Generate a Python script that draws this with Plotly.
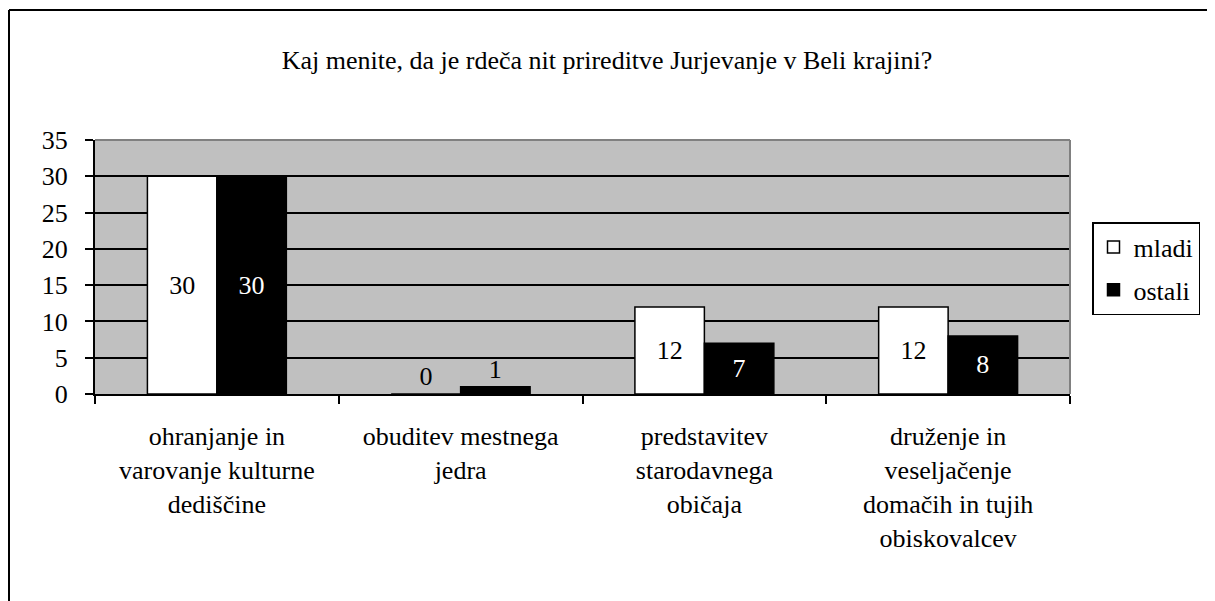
import plotly.graph_objects as go

# data
categories = [
    "ohranjanje in<br>varovanje kulturne<br>dediščine",
    "obuditev mestnega<br>jedra",
    "predstavitev<br>starodavnega<br>običaja",
    "druženje in<br>veseljačenje<br>domačih in tujih<br>obiskovalcev",
]
mladi = [30, 0, 12, 12]
ostali = [30, 1, 7, 8]
y_ticks = [0, 5, 10, 15, 20, 25, 30, 35]
title = "Kaj menite, da je rdeča nit prireditve Jurjevanje v Beli krajini?"

FONT = '"Liberation Serif", "Times New Roman", serif'
FS = 26
OFF = 8  # page body margin of the html page
W, H = 1215 - OFF, 601 - OFF
L, R, T, B = 95 - OFF, 145, 140 - OFF, 207
pw, ph = W - L - R, H - T - B


def positions(vals):
    # small bars get their label above the bar
    return ["inside" if v >= 3 else "outside" for v in vals]


fig = go.Figure()
fig.add_trace(go.Bar(
    x=categories, y=mladi, name="mladi", legendgroup="mladi",
    marker=dict(color="white", line=dict(color="black", width=1.5)),
    text=[str(v) for v in mladi], textposition=positions(mladi),
    insidetextanchor="middle",
    textfont=dict(family=FONT, size=FS, color="black"),
))
fig.add_trace(go.Bar(
    x=categories, y=ostali, name="ostali", legendgroup="ostali",
    marker=dict(color="black", line=dict(color="black", width=1.5)),
    text=[str(v) for v in ostali], textposition=positions(ostali),
    insidetextanchor="middle",
    insidetextfont=dict(family=FONT, size=FS, color="white"),
    outsidetextfont=dict(family=FONT, size=FS, color="black"),
))

# outer frame: left and top edges, kept inside the figure
fx = (1 - L) / pw
fy = (H - B - 2) / ph
fig.add_shape(type="line", xref="paper", yref="paper", x0=fx, x1=fx, y0=-B / ph, y1=fy,
              line=dict(color="black", width=2))
fig.add_shape(type="line", xref="paper", yref="paper", x0=fx, x1=(W - L) / pw, y0=fy, y1=fy,
              line=dict(color="black", width=2))
# grey top/right edge of the plot area
fig.add_shape(type="line", xref="paper", yref="paper", x0=0, x1=1, y0=1, y1=1,
              line=dict(color="#808080", width=2))
fig.add_shape(type="line", xref="paper", yref="paper", x0=1, x1=1, y0=0, y1=1,
              line=dict(color="#808080", width=2))

fig.update_layout(
    template="none",
    width=W, height=H,
    margin=dict(l=L, r=R, t=T, b=B),
    paper_bgcolor="white", plot_bgcolor="#C0C0C0",
    font=dict(family=FONT, size=FS, color="black"),
    title=dict(text=title, x=(607 - OFF) / W, xref="container", y=1 - (60 - OFF) / H,
               yref="container", yanchor="middle", xanchor="center",
               font=dict(family=FONT, size=FS, color="black")),
    barmode="group", bargap=0.43, bargroupgap=0,
    showlegend=True,
    legend=dict(x=(1092 - 95) / pw, y=(394 - 222) / ph, xanchor="left", yanchor="top",
                bordercolor="black", borderwidth=1.5, bgcolor="white",
                font=dict(family=FONT, size=FS, color="black"),
                itemwidth=30, tracegroupgap=6),
)
fig.update_xaxes(
    showline=True, linecolor="black", linewidth=2,
    ticks="outside", tickson="boundaries", ticklen=8, tickwidth=2, tickcolor="black",
    showgrid=False, ticklabelstandoff=18,
    tickfont=dict(family=FONT, size=FS, color="black"),
)
fig.update_yaxes(
    range=[0, 35], tickvals=y_ticks,
    showline=True, linecolor="black", linewidth=2,
    ticks="outside", ticklen=8, tickwidth=2, tickcolor="black",
    showgrid=True, gridcolor="black", gridwidth=1.5, zeroline=False,
    ticklabelstandoff=12,
    tickfont=dict(family=FONT, size=FS, color="black"),
)

fig.write_html("out.html")
